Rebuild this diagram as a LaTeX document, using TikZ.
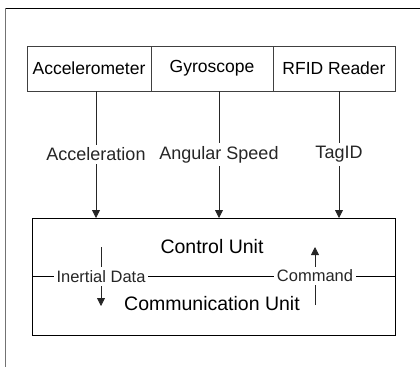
\documentclass[tikz,border=0pt]{standalone}
\usepackage{fontspec}
\setmainfont{Liberation Sans}
\usetikzlibrary{positioning,arrows.meta}

\begin{document}
\begin{tikzpicture}[
  x=1pt, y=-1pt,
  sensor/.style={rectangle, draw=black!75, line width=0.8pt, minimum height=45pt, inner sep=0pt, outer sep=0pt, font=\fontsize{17.5}{20}\selectfont},
  unit/.style={font=\fontsize{19.5}{22}\selectfont},
  lbl/.style={fill=white, inner sep=3pt, font=\fontsize{18}{20}\selectfont},
  small/.style={fill=white, inner sep=3pt, font=\fontsize{16.5}{18}\selectfont},
  arr/.style={-{Triangle[width=8pt,length=8pt]}, line width=0.8pt, black!85}
]
\useasboundingbox (0,0) rectangle (420,367);

% Frame
\draw[black, line width=0.8pt] (5,8) -- (420,8);
\draw[black!55, line width=0.8pt] (5,8) -- (5,367);

% Sensors
\node[sensor, minimum width=124pt] (acc) at (89,68.5) {Accelerometer};
\node[sensor, minimum width=122pt, right=0pt of acc] (gyro) {Gyroscope};
\node[sensor, minimum width=122pt, right=0pt of gyro] (rfid) {RFID Reader};

% Control and communication unit
\node[draw, line width=0.8pt, minimum width=363pt, minimum height=117pt, inner sep=0pt, outer sep=0pt] (cu) at (213.5,276.5) {};
\node[unit] (ctrl) at (212,247) {Control Unit};
\node[unit] (comm) at (212,304) {Communication Unit};
\draw[line width=0.8pt] (cu.west) -- (cu.east);

% Sensor data
\draw[arr] ([xshift=7pt]acc.south) -- ([xshift=7pt]acc.south |- cu.north) node[midway, lbl] {Acceleration};
\draw[arr] ([xshift=7pt]gyro.south) -- ([xshift=7pt]gyro.south |- cu.north) node[midway, lbl] {Angular Speed};
\draw[arr] ([xshift=5pt]rfid.south) -- ([xshift=5pt]rfid.south |- cu.north) node[midway, lbl] {TagID};

% Internal exchange
\coordinate (inTop) at (101,247);
\coordinate (inBot) at (101,306);
\coordinate (cmdBot) at (315,305);
\coordinate (cmdTop) at (315,247);
\draw[arr] (inTop) -- (inBot) node[midway, small] {Inertial Data};
\draw[arr] (cmdBot) -- (cmdTop) node[midway, small] {Command};

\end{tikzpicture}
\end{document}
